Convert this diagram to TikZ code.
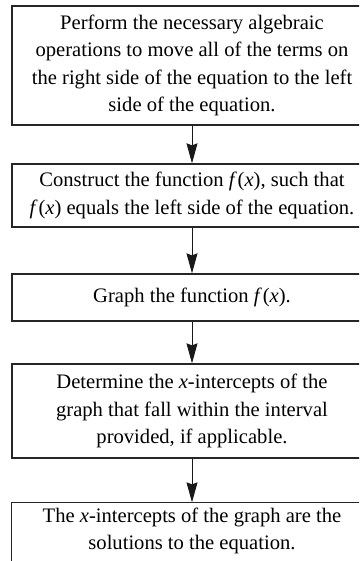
\documentclass[tikz,border=0pt]{standalone}
\usepackage{fontspec}
\setmainfont{Liberation Serif}
\usetikzlibrary{arrows.meta}
\newcommand{\fx}{\textit{f}\kern0.8pt(\textit{x})}
\begin{document}
\begin{tikzpicture}[x=1pt,y=-1pt,
  stepbox/.style={draw=black!85, line width=1.3pt, minimum width=360pt, inner sep=0pt,
    align=center, font=\fontsize{20.6}{27.5}\selectfont},
  flow/.style={-{Stealth[length=20pt,width=11pt,inset=2pt]}, line width=1pt, draw=black!90}]
\useasboundingbox (0,0) rectangle (359,561);
\clip (0,0) rectangle (359,561);
\node[stepbox, minimum height=119pt] (b1) at (192,65.5)
  {Perform the necessary algebraic\\operations to move all of the terms on\\the right side of the equation to the left\\side of the equation.};
\node[stepbox, minimum height=63pt] (b2) at (192,195.5)
  {Construct the function \fx, such that\\\fx\ equals the left side of the equation.};
\node[stepbox, minimum height=47pt] (b3) at (192,297.5)
  {Graph the function \fx.};
\node[stepbox, minimum height=94pt] (b4) at (192,411)
  {Determine the \textit{x}-intercepts of the\\graph that fall within the interval\\provided, if applicable.};
\node[stepbox, draw=none, minimum height=56pt] (b5) at (192,531)
  {The \textit{x}-intercepts of the graph are the\\solutions to the equation.};
\draw[draw=black!85, line width=1.3pt] ([yshift=-80pt]b5.north west) -- (b5.north west) -- (b5.north east) -- ([yshift=-80pt]b5.north east);
\draw[flow] (b1.south) -- (b2.north);
\draw[flow] (b2.south) -- (b3.north);
\draw[flow] (b3.south) -- (b4.north);
\draw[flow] (b4.south) -- (b5.north);
\end{tikzpicture}
\end{document}
